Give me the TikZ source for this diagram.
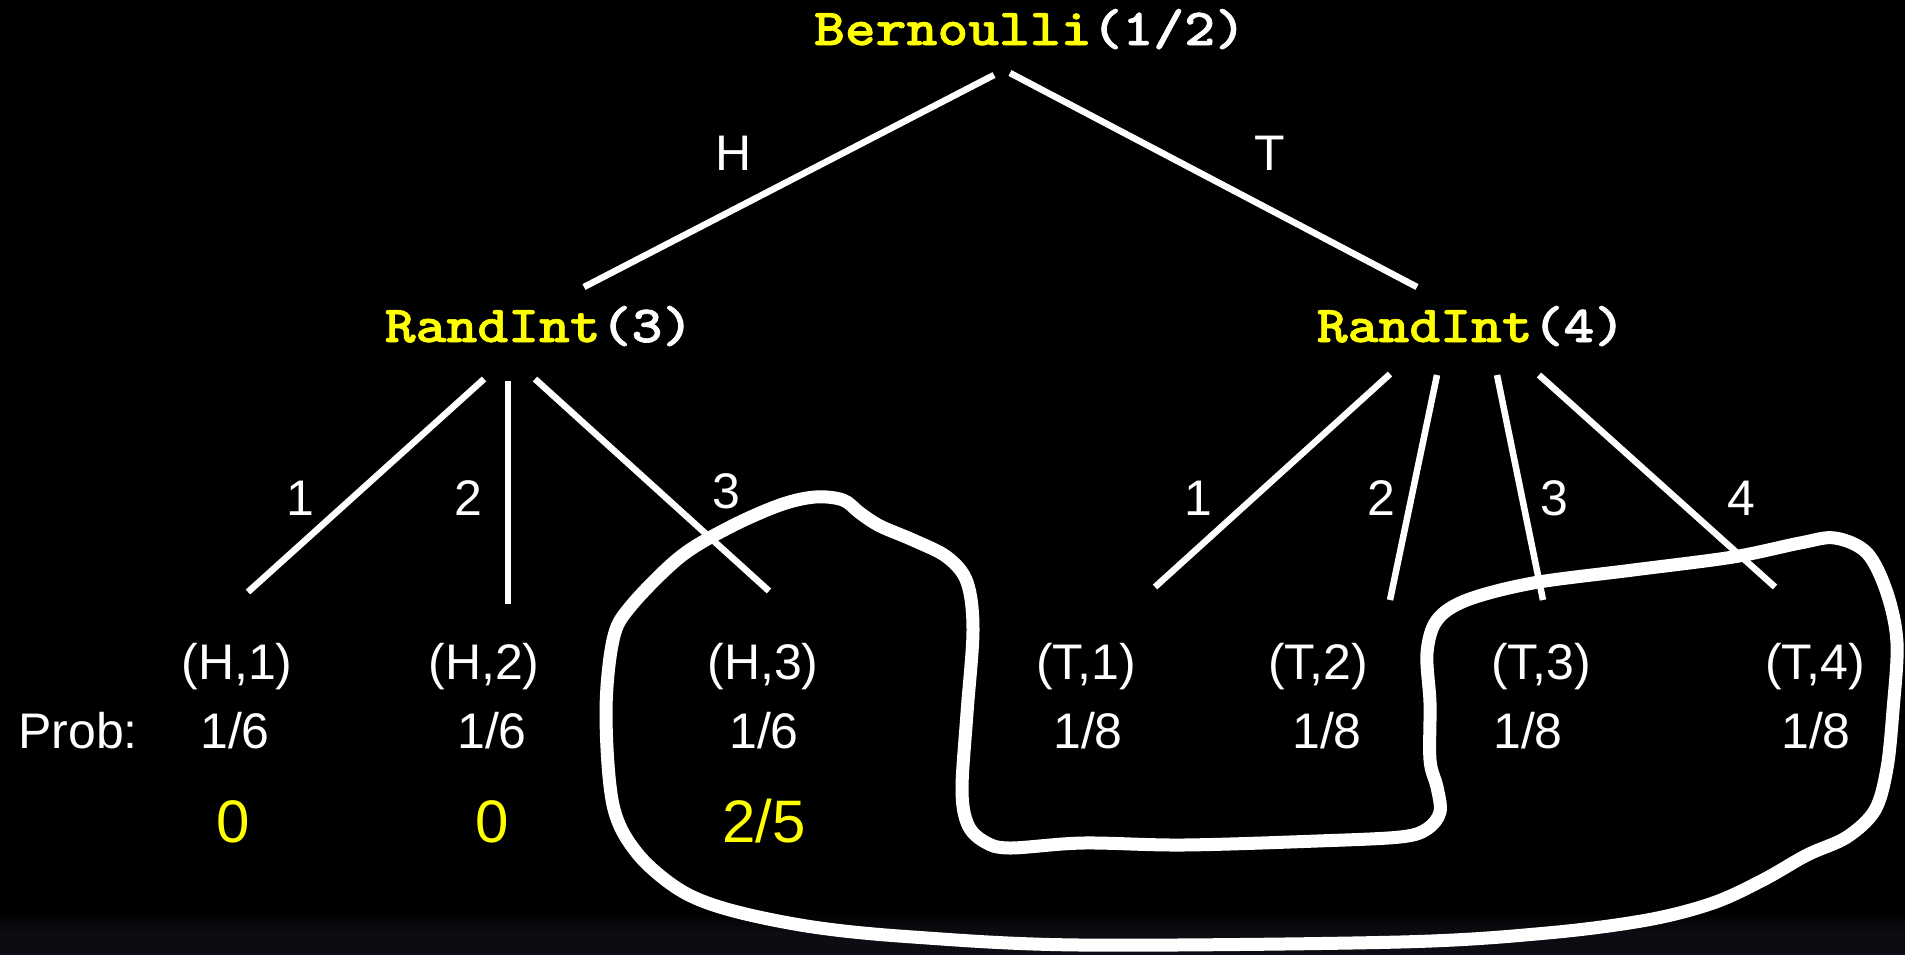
\documentclass[tikz,border=0pt]{standalone}
\usepackage{graphicx}
\usepackage{fontspec}
\setmainfont{Liberation Sans}
\newfontfamily\codefont[FakeBold=1.2]{lmmonolt10-bold.otf}
\definecolor{hiyellow}{RGB}{255,255,0}
\definecolor{bandgray}{RGB}{12,13,18}
\newcommand{\codestr}[2]{\scalebox{1.13}[1]{\textcolor{hiyellow}{#1}#2}}
\begin{document}
\begin{tikzpicture}[x=1pt,y=-1pt,
  txt/.style={text=white,font=\fontsize{50}{60}\selectfont,anchor=base,inner sep=0pt},
  yeltxt/.style={text=hiyellow,font=\fontsize{60}{72}\selectfont,anchor=base,inner sep=0pt},
  codetxt/.style={text=white,font=\codefont\fontsize{52}{62}\selectfont,anchor=base,inner sep=0pt},
  branch/.style={draw=white,line width=6.5pt},
  blob/.style={draw=white,line width=13pt,line join=round}]
\useasboundingbox (0,0) rectangle (1905,954);
\fill[black] (0,0) rectangle (1905,954);
\shade[top color=black,bottom color=bandgray,middle color=bandgray] (0,912) rectangle (1905,954);

% internal nodes
\node[codetxt] (bern) at (1030,45) {\codestr{Bernoulli}{(1/2)}};
\node[codetxt] (r3) at (539,342) {\codestr{RandInt}{(3)}};
\node[codetxt] (r4) at (1471,342) {\codestr{RandInt}{(4)}};

% branch labels
\node[txt] (lh) at (734,170) {H};
\node[txt] (lt) at (1270,170) {T};
\node[txt] (l31) at (300,515) {1};
\node[txt] (l32) at (468,515) {2};
\node[txt] (l33) at (726,508) {3};
\node[txt] (l41) at (1198,515) {1};
\node[txt] (l42) at (1381,515) {2};
\node[txt] (l43) at (1554,515) {3};
\node[txt] (l44) at (1741,515) {4};

% leaves
\node[txt] (h1) at (237,679) {(H,1)};
\node[txt] (h2) at (484,679) {(H,2)};
\node[txt] (h3) at (763,679) {(H,3)};
\node[txt] (t1) at (1086,679) {(T,1)};
\node[txt] (t2) at (1318,679) {(T,2)};
\node[txt] (t3) at (1541,679) {(T,3)};
\node[txt] (t4) at (1815,679) {(T,4)};

% probabilities
\node[txt,anchor=base west] (prob) at (18,748) {Prob:};
\node[txt] (p1) at (235,748) {1/6};
\node[txt] (p2) at (492,748) {1/6};
\node[txt] (p3) at (764,748) {1/6};
\node[txt] (p4) at (1088,748) {1/8};
\node[txt] (p5) at (1327,748) {1/8};
\node[txt] (p6) at (1528,748) {1/8};
\node[txt] (p7) at (1816,748) {1/8};

% yellow values
\node[yeltxt] (y1) at (233,842) {0};
\node[yeltxt] (y2) at (492,842) {0};
\node[yeltxt] (y3) at (764,842) {2/5};

% connector end points
\coordinate (bernL) at (994,75);
\coordinate (bernR) at (1010,73);
\coordinate (r3top) at (584,287);
\coordinate (r4top) at (1417,287);
\coordinate (r3a) at (484,379);
\coordinate (r3b) at (508,381);
\coordinate (r3c) at (535,379);
\coordinate (h1top) at (248,592);
\coordinate (h2top) at (508,604);
\coordinate (h3top) at (769,591);
\coordinate (r4a) at (1390,374);
\coordinate (r4b) at (1437,375);
\coordinate (r4c) at (1497,375);
\coordinate (r4d) at (1539,375);
\coordinate (t1top) at (1155,587);
\coordinate (t2top) at (1390,600);
\coordinate (t3top) at (1543,600);
\coordinate (t4top) at (1775,587);

\draw[branch] (bernL) -- (r3top);
\draw[branch] (bernR) -- (r4top);
\draw[branch] (r3a) -- (h1top);
\draw[branch] (r3b) -- (h2top);
\draw[branch] (r3c) -- (h3top);
\draw[branch] (r4a) -- (t1top);
\draw[branch] (r4b) -- (t2top);
\draw[branch] (r4c) -- (t3top);
\draw[branch] (r4d) -- (t4top);

% freehand loop
\draw[blob] plot[smooth cycle,tension=0.55] coordinates {
 (606,713) (613,640) (630,607) (680,557) (730,527) (780,505) (815,497) (843,500)
 (860,513) (880,526) (913,540) (947,557) (967,582) (973,630) (967,713) (962,790)
 (968,825) (985,842) (1010,848) (1083,843) (1183,845) (1317,841) (1400,837)
 (1427,829) (1440,812) (1437,787) (1430,760) (1430,703) (1427,653) (1437,620)
 (1467,600) (1533,583) (1633,570) (1733,557) (1800,543) (1835,538) (1867,553)
 (1887,593) (1897,643) (1893,710) (1887,768) (1875,810) (1847,837) (1807,855)
 (1763,880) (1713,903) (1647,920) (1547,933) (1400,942) (1080,945) (913,937)
 (813,927) (730,910) (680,890) (637,853) (613,805)};
\end{tikzpicture}
\end{document}
